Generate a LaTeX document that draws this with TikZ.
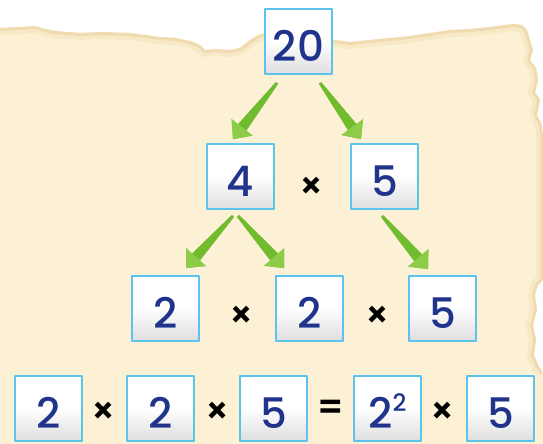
\documentclass[tikz,border=0pt]{standalone}
\usepackage{fontspec}
\setmainfont{Poppins}[BoldFont={Poppins Medium}]
\newfontfamily\opfont{Poppins SemiBold}
\usetikzlibrary{calc}
\definecolor{paper}{RGB}{252,241,212}
\definecolor{papershade}{RGB}{236,214,166}
\definecolor{leafgreen}{RGB}{112,188,46}
\definecolor{leaflight}{RGB}{140,204,72}
\definecolor{boxline}{RGB}{92,196,236}
\definecolor{digit}{RGB}{32,52,140}
\newcommand{\leafarrow}[2]{%
  \path (#1) coordinate (ls) (#2) coordinate (lt);
  \path ($(lt)!12pt!(ls)$) coordinate (lh) ($(lt)!15pt!(ls)$) coordinate (lb);
  \fill[leafgreen] ($(ls)!1.5pt!90:(lt)$) -- ($(lh)!5.5pt!90:(lt)$) -- ($(lb)!13.5pt!90:(lt)$) -- (lt)
    -- ($(lb)!13.5pt!-90:(lt)$) -- ($(lh)!5.5pt!-90:(lt)$) -- ($(ls)!1.5pt!-90:(lt)$) -- cycle;
  \fill[leaflight] ($(lb)!13.5pt!90:(lt)$) -- (lt) -- ($(lb)!13.5pt!-90:(lt)$) -- cycle;}

\begin{document}
\begin{tikzpicture}[x=1pt, y=-1pt, line join=round,
    num/.style={draw=boxline, line width=1.8pt, top color=white, bottom color=black!13, middle color=white,
      minimum width=67pt, minimum height=65pt, inner sep=0pt, text=digit,
      text height=40pt, text depth=0pt, font=\fontsize{42}{42}\selectfont\bfseries},
    op/.style={inner sep=0pt, font=\fontsize{36}{36}\selectfont\opfont}]
  \useasboundingbox (0,0) rectangle (543,444);
  \def\tornedge{(0,28) -- (20,27) -- (35,26) -- (45,29) -- (55,31) -- (80,33) -- (100,32) -- (130,33)
    -- (145,35) -- (160,37) -- (175,38) -- (190,41) -- (200,45) -- (205,50) -- (215,49) -- (230,50)
    -- (240,48) -- (250,40) -- (258,35) -- (265,33) -- (335,40) -- (350,42) -- (370,40) -- (390,38)
    -- (410,36) -- (430,33) -- (450,30) -- (470,29) -- (490,27) -- (505,25) -- (515,24) -- (522,25)
    -- (527,30) -- (530,40) -- (533,50) -- (530,60) -- (536,68) -- (538,80) -- (535,92) -- (540,100)
    -- (537,115) -- (542,125) -- (543,135) -- (543,280) -- (538,285) -- (535,295) -- (537,310)
    -- (533,325) -- (536,340) -- (534,355) -- (538,365) -- (543,372)}
  \fill[paper] \tornedge -- (543,444) -- (0,444) -- cycle;
  \begin{scope}
    \clip \tornedge -- (543,444) -- (0,444) -- cycle;
    \draw[papershade, line width=14pt, opacity=.3] \tornedge;
    \draw[papershade, line width=6pt, opacity=.7] \tornedge;
  \end{scope}

  \node[num] (n20) at (298.5,41.5) {20};
  \node[num] (n4) at (240.5,176.5) {4};
  \node[op] (t1) at (312,188) {×};
  \node[num] (n5) at (384.5,176.5) {5};

  \node[num] (n2a) at (165.5,308.5) {2};
  \node[op] (t2) at (242,317) {×};
  \node[num] (n2b) at (309.5,308.5) {2};
  \node[op] (t3) at (378,317) {×};
  \node[num] (n5b) at (442.5,308.5) {5};

  \node[num] (r1) at (48.5,408.5) {2};
  \node[op] (t4) at (104,413) {×};
  \node[num] (r2) at (160.5,408.5) {2};
  \node[op] (t5) at (218,413) {×};
  \node[num] (r3) at (273.5,408.5) {5};
  \node[op] (eq) at (331,410) {=};
  \node[num] (r4) at (387.5,408.5) {2\raisebox{17pt}{\fontsize{24}{24}\selectfont 2}};
  \node[op] (t6) at (443,413) {×};
  \node[num] (r5) at (500.5,408.5) {5};

  \leafarrow{$(n20.south)+(-21.5,8)$}{$(n4.north)+(-7.5,-4)$}
  \leafarrow{$(n20.south)+(21.5,8)$}{$(n5.north)+(-23.5,-4)$}
  \leafarrow{$(n4.south)+(-7.5,6)$}{$(n2a.north)+(20.5,-7)$}
  \leafarrow{$(n4.south)+(-2.5,6)$}{$(n2b.north)+(-25.5,-7)$}
  \leafarrow{$(n5.south)+(-2.5,6)$}{$(n5b.north)+(-14.5,-6)$}
\end{tikzpicture}
\end{document}
